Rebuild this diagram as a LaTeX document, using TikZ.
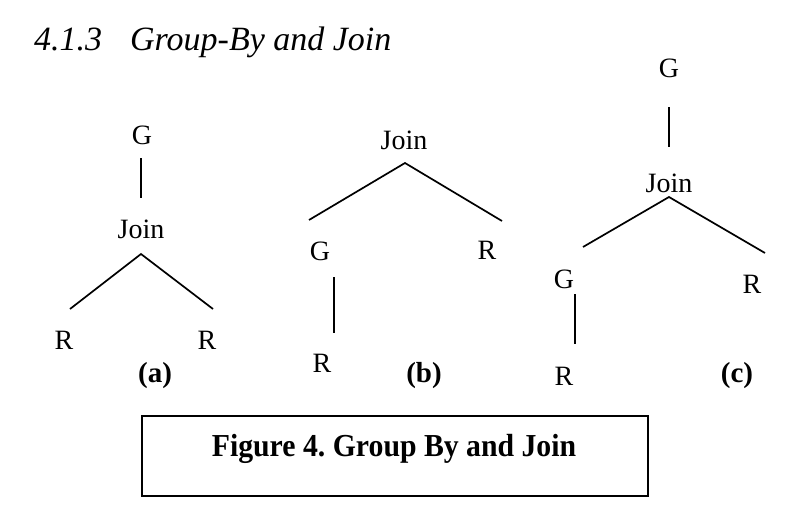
\documentclass[tikz,border=0pt]{standalone}
\usepackage{fontspec}
\setmainfont{Liberation Serif}
\frenchspacing
\begin{document}
\begin{tikzpicture}[x=1pt,y=-1pt,
  lbl/.style={inner sep=0pt, font=\fontsize{28}{30}\selectfont},
  sub/.style={inner sep=0pt, font=\fontsize{29}{31}\selectfont\bfseries},
  edge/.style={line width=1.7pt},
  capbox/.style={draw, line width=2.4pt}]
\useasboundingbox (0,0) rectangle (812,522);
% title
\node[anchor=base west, inner sep=0pt, font=\fontsize{34}{36}\selectfont\itshape] (title) at (34,50) {4.1.3\hspace{28pt}Group-By and Join};
% (a)
\node[lbl] (aG) at (142,135) {G};
\node[lbl] (aJ) at (141,229) {Join};
\node[lbl] (aR1) at (64,340) {R};
\node[lbl] (aR2) at (207,340) {R};
\node[sub] (alab) at (155,376) {(a)};
\coordinate (aV1) at (141,158); \coordinate (aV2) at (141,198);
\coordinate (aP) at (141,254); \coordinate (aL) at (70,309); \coordinate (aRr) at (213,309);
\draw[edge] (aV1) -- (aV2);
\draw[edge] (aL) -- (aP) -- (aRr);
% (b)
\node[lbl] (bJ) at (404,140) {Join};
\node[lbl] (bG) at (320,251) {G};
\node[lbl] (bR1) at (322,363) {R};
\node[lbl] (bR2) at (487,250) {R};
\node[sub] (blab) at (424,376) {(b)};
\coordinate (bV1) at (334,277); \coordinate (bV2) at (334,333);
\coordinate (bP) at (405,163); \coordinate (bL) at (309,220); \coordinate (bRr) at (502,221);
\draw[edge] (bV1) -- (bV2);
\draw[edge] (bL) -- (bP) -- (bRr);
% (c)
\node[lbl] (cG) at (669,68) {G};
\node[lbl] (cJ) at (669,183) {Join};
\node[lbl] (cG2) at (564,279) {G};
\node[lbl] (cR1) at (564,376) {R};
\node[lbl] (cR2) at (752,284) {R};
\node[sub] (clab) at (737,376) {(c)};
\coordinate (cV1) at (669,107); \coordinate (cV2) at (669,147);
\coordinate (cP) at (669,197); \coordinate (cL) at (583,247); \coordinate (cRr) at (765,253);
\coordinate (cW1) at (575,294); \coordinate (cW2) at (575,344);
\draw[edge] (cV1) -- (cV2);
\draw[edge] (cL) -- (cP) -- (cRr);
\draw[edge] (cW1) -- (cW2);
% caption
\node[capbox, minimum width=506pt, minimum height=80pt, inner sep=0pt] (cap) at (395,456) {};
\node[inner sep=0pt, font=\fontsize{32}{34}\selectfont\bfseries] (captxt) at (394,449) {\scalebox{0.93}[1]{Figure 4. Group By and Join}};
\end{tikzpicture}
\end{document}
